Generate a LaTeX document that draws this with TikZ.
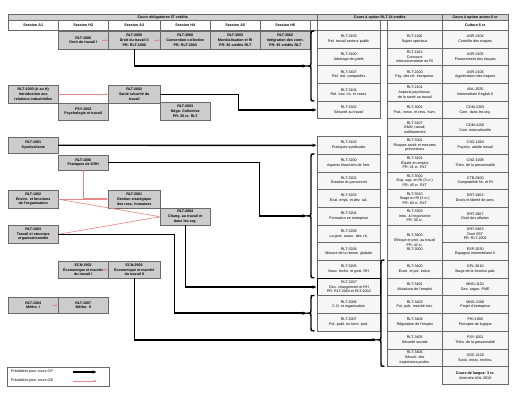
\documentclass[tikz,border=0pt]{standalone}
\usepackage{fontspec}
\setmainfont{Liberation Sans}
\usepackage{tikz}
\usetikzlibrary{arrows.meta}
\definecolor{obpink}{RGB}{232,135,135}
\definecolor{cellline}{RGB}{105,105,105}
\newcommand{\oparw}{-{Latex[length=2.2mm,width=1.8mm]}}
\newcommand{\obarw}{-{Latex[length=1.3mm,width=1.1mm]}}
\newcommand{\tinyf}{\fontsize{5.2}{6.6}\selectfont}
% accolade: x, haut, pointe, bas
\newcommand{\grpbrace}[4]{\draw[line width=2pt,line cap=round] (#1,#2) .. controls (#1-3,#2) .. (#1-3,#2+3) -- (#1-3,#3-3) .. controls (#1-3,#3) .. (#1-6,#3) .. controls (#1-3,#3) .. (#1-3,#3+3) -- (#1-3,#4-3) .. controls (#1-3,#4) .. (#1,#4);}

\begin{document}
\begin{tikzpicture}[x=.5mm,y=-.5mm,
  wh/.style 2 args={minimum width=#1*0.5mm,minimum height=#2*0.5mm},
  cell/.style={draw=cellline,line width=.7pt,anchor=north west,inner sep=0pt,align=center,font=\tinyf},
  ob/.style={cell,fill=gray!40,font=\tinyf\bfseries},
  op/.style={cell,fill=gray!7},
  hd/.style={cell,fill=white,font=\tinyf\bfseries},
  bar/.style={cell,fill=gray!35,font=\tinyf\bfseries},
  opl/.style={\oparw,line width=2.1pt},
  obl/.style={\obarw,draw=obpink,line width=.9pt}]
\useasboundingbox (0,0) rectangle (518,400);
%en-tetes
\node[bar,wh={309}{6}] (hob) at (8,14) {Cours obligatoires 57 crédits};
\node[bar,wh={125}{6}] (hrlt) at (317,14) {Cours à option RLT 24 crédits};
\node[bar,wh={66}{6}] (haut) at (442,14) {Cours à option autres 6 cr};
\node[hd,wh={50}{10}] (sA1) at (8,20) {Session A1};
\node[hd,wh={50}{10}] (sH2) at (58,20) {Session H2};
\node[hd,wh={52}{10}] (sA3) at (108,20) {Session A3};
\node[hd,wh={50}{10}] (sH4) at (160,20) {Session H4};
\node[hd,wh={50}{10}] (sA5) at (210,20) {Session A5};
\node[hd,wh={50}{10}] (sH6) at (260,20) {Session H6};
\node[hd,wh={7}{10}] (sx1) at (310,20) {};
\node[hd,wh={63}{10}] (sx2) at (317,20) {};
\node[hd,wh={7}{10}] (sx3) at (380,20) {};
\node[hd,wh={55}{10}] (sx4) at (387,20) {};
\node[hd,wh={66}{10}] (cult) at (442,20) {Culture 6 cr};
%cours obligatoires
\node[ob,wh={50}{18}] (n1000) at (58,31) {RLT-1000\\Droit du travail I};
\node[ob,wh={52}{18}] (n2000) at (108,31) {RLT-2000\\Droit du travail II\\PR: RLT-1000};
\node[ob,wh={50}{18}] (n3000) at (160,31) {RLT-3000\\Convention collective\\PR: RLT-2003};
\node[ob,wh={50}{18}] (n3003) at (210,31) {RLT-3003\\Mondialisation et RI\\PR: 30 crédits RLT};
\node[ob,wh={50}{18}] (n3002) at (260,31) {RLT-3002\\Intégration des conn.\\PR: 45 crédits RLT};
\node[ob,wh={50}{18}] (intro) at (8,85) {RLT-1000 (A ou H)\\Introduction aux\\relations industrielles};
\node[ob,wh={52}{18}] (n2002) at (108,85) {RLT-2002\\Santé sécurité du\\travail};
\node[ob,wh={50}{17}] (psy) at (58,103) {PSY-1002\\Psychologie et travail};
\node[ob,wh={50}{18}] (n2003) at (160,102) {RLT-2003\\Négo. Collective\\PR: 30 cr. RLT};
\node[ob,wh={50}{16}] (n1001) at (8,137) {RLT-1001\\Syndicalisme};
\node[ob,wh={50}{15}] (n1006) at (58,155) {RLT-1006\\Pratiques de GRH};
\node[ob,wh={50}{18}] (n1002) at (8,190) {RLT-1002\\Enviro. et fonctions\\de l'organisation};
\node[ob,wh={52}{18}] (n2001) at (108,190) {RLT-2001\\Gestion stratégique\\des ress. humaines};
\node[ob,wh={50}{17}] (n2004) at (160,208) {RLT-2004\\Chang. au travail et\\dans les org.};
\node[ob,wh={50}{18}] (n1003) at (8,225) {RLT-1003\\Travail et structure\\organisationnelle};
\node[ob,wh={50}{17}] (e1902) at (58,261) {ECN-1902\\Économique et marché\\du travail I};
\node[ob,wh={52}{17}] (e2902) at (108,261) {ECN-2902\\Économique et marché\\du travail II};
\node[ob,wh={50}{16}] (m1004) at (8,297) {RLT-1004\\Métho. I};
\node[ob,wh={50}{16}] (m1007) at (58,297) {RLT-1007\\Métho. II};
%options RLT, premiere colonne
\node[op,wh={63}{17.7}] (o3103) at (317,30) {RLT-3103\\Rel. travail secteur public};
\node[op,wh={63}{17.7}] (o3100) at (317,47.7) {RLT-3100\\Arbitrage de griefs};
\node[op,wh={63}{17.7}] (o3407) at (317,65.4) {RLT-3407\\Rel. ind. comparées};
\node[op,wh={63}{17.7}] (o3104) at (317,83.1) {RLT-3104\\Rel. trav. int. et const.};
\node[op,wh={63}{17.7}] (o3302) at (317,100.8) {RLT-3302\\Sécurité au travail};
\node[op,wh={63}{17.7}] (o3102) at (317,136.2) {RLT-3102\\Pratiques syndicales};
\node[op,wh={63}{17.7}] (o3200) at (317,153.9) {RLT-3200\\Aspects financiers de l'ent.};
\node[op,wh={63}{17.7}] (o3202) at (317,171.6) {RLT-3202\\Dotation du personnel};
\node[op,wh={63}{17.7}] (o3203) at (317,189.3) {RLT-3203\\Éval. empl. et dév. sal.};
\node[op,wh={63}{17.7}] (o3204) at (317,207) {RLT-3204\\Formation en entreprise};
\node[op,wh={63}{17.7}] (o3206) at (317,224.7) {RLT-3206\\La gest. assoc. des r.h.};
\node[op,wh={63}{17.7}] (o3208) at (317,242.4) {RLT-3208\\Mesure de la rémun. globale};
\node[op,wh={63}{17.7}] (o3205) at (317,260.1) {RLT-3205\\Nouv. techn. et gest. RH};
\node[op,wh={63}{17.7},draw=black,line width=1.2pt] (o3207) at (317,277.8) {RLT-3207\\Ges. changement et RH\\PR: RLT-2004 et RLT-1002};
\node[op,wh={63}{17.7}] (o3006) at (317,295.5) {RLT-3006\\C.O. et organisation};
\node[op,wh={63}{17.7}] (o3007) at (317,313.2) {RLT-3007\\Pol. publ. en form. prof.};
%options RLT, deuxieme colonne
\node[op,wh={55}{17.7}] (o1100) at (387,30) {RLT-1100\\Sujets spéciaux};
\node[op,wh={55}{17.7}] (o1101) at (387,47.7) {RLT-1101\\Concours\\interuniversitaire en RI};
\node[op,wh={55}{17.7}] (o2100) at (387,65.4) {RLT-2100\\Psy. des rel. interperso.};
\node[op,wh={55}{17.7}] (o2101) at (387,83.1) {RLT-2101\\Aspects psychosoc.\\de la santé au travail};
\node[op,wh={55}{17.7}] (o3001) at (387,100.8) {RLT-3001\\Prat., innov. et ress. hum.};
\node[op,wh={55}{17.7}] (o3107) at (387,118.5) {RLT-3107\\GMO, travail,\\vieillissement};
\node[op,wh={55}{17.7}] (o3301) at (387,136.2) {RLT-3301\\Risques santé et mesures\\préventives};
\node[op,wh={55}{17.7}] (o3101) at (387,153.9) {RLT-3101\\Équité en emploi\\PR: 21 cr. RLT};
\node[op,wh={55}{17.7}] (o3500) at (387,171.6) {RLT-3500\\Exp. sup. en RI (3 cr.)\\PR: 45 cr. RLT};
\node[op,wh={55}{17.7}] (o3510) at (387,189.3) {RLT-3510\\Stage en RI (3 cr.)\\PR: 60 cr. RLT};
\node[op,wh={55}{17.7}] (o3303) at (387,207) {RLT-3303\\Intro. à l'ergonomie\\PR: 30 cr.};
\node[op,wh={55}{35.4}] (o3600) at (387,224.7) {RLT-3600\\Éthique et prot. au travail\\PR: 42 cr.\\RLT-3000};
\node[op,wh={55}{17.7}] (o3400) at (387,260.1) {RLT-3400\\Écon. et pol. indus.};
\node[op,wh={55}{17.7}] (o3401) at (387,277.8) {RLT-3401\\Mutations de l'emploi};
\node[op,wh={55}{17.7}] (o3403) at (387,295.5) {RLT-3403\\Pol. pub. marché trav.};
\node[op,wh={55}{17.7}] (o3404) at (387,313.2) {RLT-3404\\Régulation de l'emploi};
\node[op,wh={55}{17.7}] (o3405) at (387,330.9) {RLT-3405\\Sécurité sociale};
\node[op,wh={55}{17.7}] (o3406) at (387,348.6) {RLT-3406\\Sécurit. des\\trajectoires profes.};
%options autres
\node[op,wh={66}{17.7}] (a2104) at (442,30) {ASR-2104\\Contrôle des risques};
\node[op,wh={66}{17.7}] (a2105) at (442,47.7) {ASR-2105\\Financement des risques};
\node[op,wh={66}{17.7}] (a2106) at (442,65.4) {ASR-2106\\Appréciation des risques};
\node[op,wh={66}{17.7}] (a2020) at (442,83.1) {ANL-2020\\Intermediate English II};
\node[op,wh={66}{17.7}] (a2303) at (442,100.8) {COM-2303\\Com. dans les org.};
\node[op,wh={66}{17.7}] (a4150) at (442,118.5) {COM-4150\\Com. interculturelle};
\node[op,wh={66}{17.7}] (a1004) at (442,136.2) {CSO-1004\\Psycho. adulte travail};
\node[op,wh={66}{17.7}] (a1005) at (442,153.9) {CSO-1005\\Théo. de la personnalité};
\node[op,wh={66}{17.7}] (a2900) at (442,171.6) {CTB-2900\\Comptabilité fin. et RI};
\node[op,wh={66}{17.7}] (a1902) at (442,189.3) {DRT-1902\\Droits et liberté de pers.};
\node[op,wh={66}{17.7}] (a1907) at (442,207) {DRT-1907\\Droit des affaires};
\node[op,wh={66}{17.7}] (a2903) at (442,224.7) {DRT-2903\\Droit SST\\PR: RLT-2002};
\node[op,wh={66}{17.7}] (a2030) at (442,242.4) {ESP-2030\\Espagnol intermédiaire II};
\node[op,wh={66}{17.7}] (a3610) at (442,260.1) {GPL-3610\\Stage de la fonction pub.};
\node[op,wh={66}{17.7}] (a1101) at (442,277.8) {MNG-1101\\Ges. organ. PME};
\node[op,wh={66}{17.7}] (a2108) at (442,295.5) {MNG-2108\\Projet d'entreprise};
\node[op,wh={66}{17.7}] (a1900) at (442,313.2) {PHI-1900\\Principes de logique};
\node[op,wh={66}{17.7}] (a1001) at (442,330.9) {PSY-1001\\Théo. de la personnalité};
\node[op,wh={66}{17.7}] (a2120) at (442,348.6) {SOC-2120\\Socio. innov. techno.};
\node[op,wh={66}{18}] (lang) at (442,366.3) {\bfseries Cours de langue: 3 cr.\\Atteindre ANL-3010};
%accolades
\grpbrace{314}{31}{66}{101}
\coordinate (b1) at (307,66);
\grpbrace{314}{153.9}{215.9}{277.8}
\coordinate (b2) at (307,215.9);
\grpbrace{314}{295.5}{313.2}{330.9}
\coordinate (b3) at (307,313.2);
\grpbrace{384}{260.1}{339.8}{366.3}
\coordinate (b4) at (377,339.8);
%prealables OB
\draw[obl] ([xshift=-3mm]n1000.east) -- (n2000.west);
\draw[obl] ([xshift=-3mm]n2000.east) -- (n3000.west);
\draw[obl] (intro.east) -- (n2002.west);
\draw[obl] (n1006.south) |- ([yshift=1pt]n2001.west);
\draw[obl] (n1002.east) -- (n2001.west);
\draw[obl] (n1002.east) -- (n2004.west);
\draw[obl] (n1003.east) -- (n2004.west);
\draw[obl] ([xshift=-3mm]e1902.east) -- (e2902.west);
\draw[obl] ([xshift=-3mm]m1004.east) -- (m1007.west);
%prealables OP
\draw[opl] (n2000.south) |- (b1);
\draw[opl] (n2002.east) -- ++(78,0) |- (o3302.west);
\draw[opl] (n1001.east) -- (o3102.west);
\draw[opl] (n1006.east) -- ++(151,0) |- (b2);
\draw[opl] (n2004.south) |- (o3207.west);
\draw[opl] (n1003.east) -- ++(116,0) |- (b3);
\draw[opl] (e2902.south) |- (b4);
%legende
\node[cell,wh={102}{19}] (leg) at (7,367) {};
\node[anchor=west,inner sep=0pt,font=\tinyf] (lop) at (11,372) {Préalables pour cours OP};
\node[anchor=west,inner sep=0pt,font=\tinyf] (lob) at (11,381) {Préalables pour cours OB};
\coordinate (lop1) at (73,372);
\coordinate (lop2) at (97,372);
\coordinate (lob1) at (73,381);
\coordinate (lob2) at (97,381);
\draw[opl] (lop1) -- (lop2);
\draw[obl] (lob1) -- (lob2);
\end{tikzpicture}
\end{document}
